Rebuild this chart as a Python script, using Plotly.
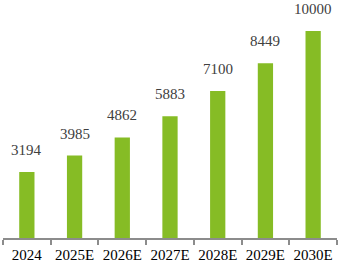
import plotly.graph_objects as go

categories = ["2024", "2025E", "2026E", "2027E", "2028E", "2029E", "2030E"]
values = [3194, 3985, 4862, 5883, 7100, 8449, 10000]

xpos = list(range(len(categories)))

fig = go.Figure()
fig.add_trace(go.Bar(
    x=xpos, y=values, width=0.32,
    marker=dict(color="#86BC25", line=dict(width=0)),
    hoverinfo="skip",
))

for i, v in zip(xpos, values):
    fig.add_annotation(
        x=i, y=v, text=str(v), showarrow=False,
        yanchor="bottom", yshift=12,
        font=dict(family="Liberation Serif", size=15, color="#404040"),
    )

fig.update_layout(
    width=340, height=266,
    margin=dict(l=3, r=3, t=0, b=28),
    paper_bgcolor="white", plot_bgcolor="white",
    showlegend=False,
    font=dict(family="Liberation Serif", size=15, color="#000000"),
)
fig.update_xaxes(
    type="linear", range=[-0.5, len(categories) - 0.5],
    tickvals=xpos, ticktext=categories, ticks="",
    showline=True, linecolor="#8c8c8c", linewidth=2,
    tickfont=dict(family="Liberation Serif", size=15, color="#000000"),
    ticklabelstandoff=2,
    tickangle=0, showgrid=False, zeroline=False,
    minor=dict(tickvals=[p - 0.5 for p in xpos] + [xpos[-1] + 0.5],
               ticks="outside", ticklen=5, tickcolor="#8c8c8c", tickwidth=2, showgrid=False),
)
fig.update_yaxes(visible=False, range=[0, 11500], showgrid=False)

fig.write_html("out.html")
